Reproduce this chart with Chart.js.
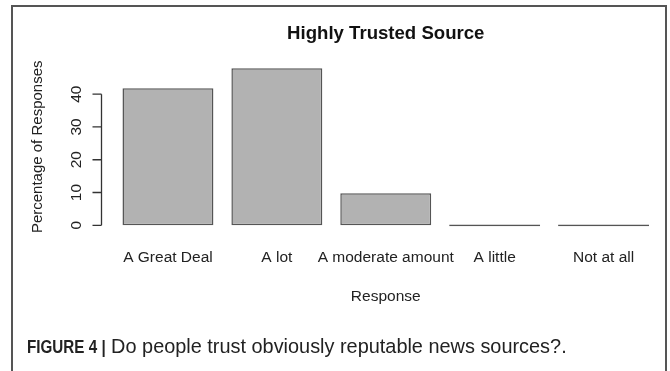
<!DOCTYPE html>
<html>
<head>
<meta charset="utf-8">
<script src="https://cdn.jsdelivr.net/npm/chart.js@4/dist/chart.umd.min.js"></script>
<style>
  html, body { margin: 0; padding: 0; background: #fff; }
  #wrap { position: relative; width: 670px; height: 371px; overflow: hidden; }
  #frame { position: absolute; left: 11px; top: 5px; width: 652px; height: 420px; border: 2px solid #555; }
  #chartBox { position: absolute; left: 0; top: 0; width: 670px; height: 371px; }
  #caption {
    position: absolute; left: 27px; top: 334px;
    font-family: "Liberation Sans", Arial, sans-serif; font-size: 19.9px; color: #222;
    white-space: nowrap; line-height: 24px;
  }
  #caption b {
    font-weight: bold; font-size: 18.8px; display: inline-block;
    transform: scaleX(0.81); transform-origin: left center; margin-right: -18.5px;
  }
</style>
</head>
<body>
<div id="wrap">
  <div id="frame"></div>
  <div id="chartBox"><canvas id="barChart" width="670" height="371"></canvas></div>
  <div id="caption"><b>FIGURE 4 |</b> Do people trust obviously reputable news sources?.</div>
</div>
<script>
const responses = ["A Great Deal", "A lot", "A moderate amount", "A little", "Not at all"];
const percentages = [41.8, 47.9, 9.8, 0, 0];
const yTicks = [0, 10, 20, 30, 40];

const FONT = "'Liberation Sans', Arial, sans-serif";

// R style y axis: a line from the first to the last tick, ticks pointing out
const rAxis = {
  id: "rAxis",
  afterDraw(chart) {
    const { ctx, chartArea, scales } = chart;
    const y = scales.y;
    const x0 = chartArea.left - 12;
    ctx.save();
    ctx.strokeStyle = "#333";
    ctx.lineWidth = 1.3;
    ctx.beginPath();
    ctx.moveTo(x0, y.getPixelForValue(yTicks[0]));
    ctx.lineTo(x0, y.getPixelForValue(yTicks[yTicks.length - 1]));
    yTicks.forEach((v) => {
      const py = y.getPixelForValue(v);
      ctx.moveTo(x0, py);
      ctx.lineTo(x0 - 9, py);
    });
    ctx.stroke();
    ctx.restore();
  },
};

const ctx = document.getElementById("barChart").getContext("2d");
new Chart(ctx, {
  type: "bar",
  data: {
    labels: responses,
    datasets: [
      {
        label: "Percentage of Responses",
        data: percentages,
        backgroundColor: "#b2b2b2",
        borderColor: "#555",
        borderWidth: 1.5,
        borderSkipped: false,
        minBarLength: 1.8,
        barPercentage: 0.835,
        categoryPercentage: 1.0,
      },
    ],
  },
  options: {
    responsive: false,
    animation: false,
    layout: { padding: { left: 0, right: 12, top: 0, bottom: 59.4 } },
    plugins: {
      legend: { display: false },
      tooltip: { enabled: false },
      title: {
        display: true,
        text: "Highly Trusted Source",
        fullSize: false,
        color: "#111",
        font: { family: FONT, size: 18.6, weight: "bold", lineHeight: 1.2 },
        padding: { top: 22.6, bottom: 17.1 },
      },
    },
    scales: {
      x: {
        grid: { display: false, drawTicks: false },
        border: { display: false },
        ticks: { color: "#222", padding: 17, maxRotation: 0, autoSkip: false, font: { family: FONT, size: 15.5 } },
        title: {
          display: true,
          text: "Response",
          color: "#222",
          font: { family: FONT, size: 15.5, lineHeight: 1.2 },
          padding: { top: 0, bottom: 5.5 },
        },
        afterFit: (scale) => { scale.height = 80; },
      },
      y: {
        min: -1.92,
        max: 49.8,
        grid: { display: false, drawTicks: false },
        border: { display: false },
        afterBuildTicks: (scale) => { scale.ticks = yTicks.map((v) => ({ value: v })); },
        ticks: {
          color: "#222",
          minRotation: 90,
          maxRotation: 90,
          crossAlign: "center",
          padding: 28,
          font: { family: FONT, size: 15.5 },
        },
        title: {
          display: true,
          text: "Percentage of Responses",
          color: "#222",
          font: { family: FONT, size: 15, lineHeight: 1.2 },
          padding: { top: 29, bottom: 0 },
        },
        afterFit: (scale) => { scale.width = 113.5; },
      },
    },
  },
  plugins: [rAxis],
});
</script>
</body>
</html>
